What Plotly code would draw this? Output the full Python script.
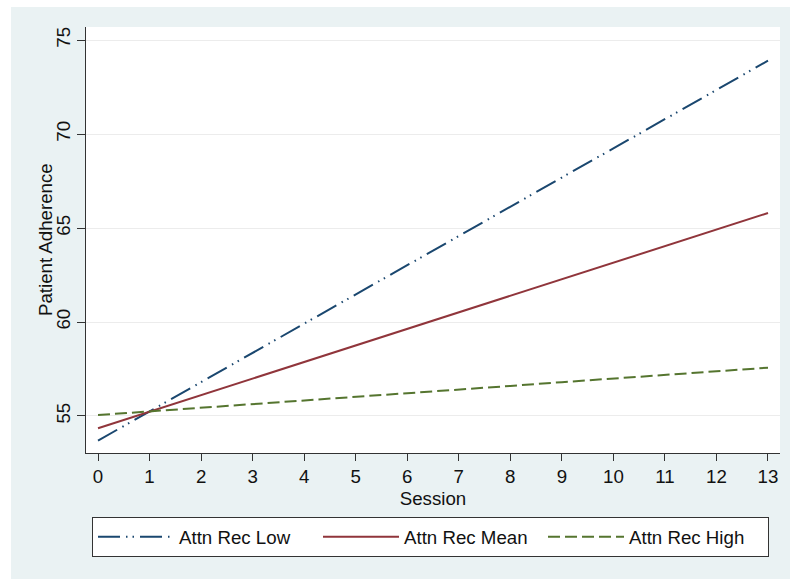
import plotly.graph_objects as go

sessions = list(range(14))
tick_vals_y = [55, 60, 65, 70, 75]
low_vals = [53.69, 55.25, 56.80, 58.36, 59.91, 61.47, 63.02, 64.58, 66.13, 67.69, 69.24, 70.80, 72.35, 73.91]
mean_vals = [54.35, 55.23, 56.11, 56.99, 57.87, 58.76, 59.64, 60.52, 61.40, 62.28, 63.16, 64.04, 64.92, 65.80]
high_vals = [55.05, 55.24, 55.44, 55.63, 55.83, 56.02, 56.21, 56.41, 56.60, 56.80, 56.99, 57.18, 57.38, 57.57]
names = ["Attn Rec Low", "Attn Rec Mean", "Attn Rec High"]

FONT = "Liberation Sans, Arial, Helvetica, sans-serif"
FS = 18.7
W, H = 790, 579
ML, MR, MT, MB = 86, 10, 27, 126
PW = W - ML - MR
PH = H - MT - MB

def px_x(p):
    return (p - ML) / PW

def px_y(p):
    return (H - MB - p) / PH

fig = go.Figure()
fig.add_trace(go.Scatter(x=sessions, y=low_vals, mode="lines", name=names[0],
                         line=dict(color="#1a476f", width=2, dash="22px,6px,1.5px,5px,1.5px,6px")))
fig.add_trace(go.Scatter(x=sessions, y=mean_vals, mode="lines", name=names[1],
                         line=dict(color="#90353b", width=2)))
fig.add_trace(go.Scatter(x=sessions, y=high_vals, mode="lines", name=names[2],
                         line=dict(color="#55752f", width=2, dash="12px,5px")))

bg = "#eaf2f3"
fig.update_layout(
    width=W, height=H,
    margin=dict(l=ML, r=MR, t=MT, b=MB, pad=0),
    paper_bgcolor=bg,
    plot_bgcolor="white",
    font=dict(family=FONT, size=FS, color="#111111"),
    showlegend=True,
    legend=dict(
        orientation="h",
        x=px_x(92), y=px_y(517), xanchor="left", yanchor="top",
        bgcolor="white", bordercolor="#333333", borderwidth=1,
        font=dict(family=FONT, size=FS, color="#111111"),
        itemwidth=76,
        entrywidth=134, entrywidthmode="pixels",
        traceorder="normal",
    ),
    xaxis=dict(
        range=[-0.233, 13.233],
        tickmode="array", tickvals=sessions, ticktext=[str(s) for s in sessions],
        showgrid=False, zeroline=False,
        showline=True, linecolor="#333333", linewidth=1,
        ticks="outside", ticklen=7, tickcolor="#333333", tickwidth=1,
        ticklabelstandoff=0,
        title=dict(text="Session", standoff=5, font=dict(size=FS)),
        tickfont=dict(size=FS),
    ),
    yaxis=dict(
        range=[53.03, 75.7],
        tickmode="array", tickvals=tick_vals_y, ticktext=[str(v) for v in tick_vals_y],
        tickangle=-90,
        showgrid=True, gridcolor="#ececec", gridwidth=1,
        zeroline=False,
        showline=True, linecolor="#333333", linewidth=1,
        ticks="outside", ticklen=8, tickcolor="#333333", tickwidth=1,
        tickfont=dict(size=FS),
    ),
    annotations=[
        dict(text="Patient Adherence", xref="paper", yref="paper",
             x=px_x(45), y=0.5, xanchor="center", yanchor="middle",
             textangle=-90, showarrow=False, font=dict(size=FS, family=FONT, color="#111111")),
    ],
    shapes=[
        dict(type="rect", xref="paper", yref="paper", layer="above",
             x0=px_x(-5), x1=px_x(W + 5), y0=px_y(7), y1=px_y(-5),
             fillcolor="white", line=dict(width=0)),
        dict(type="rect", xref="paper", yref="paper", layer="above",
             x0=px_x(-5), x1=px_x(11), y0=px_y(H + 5), y1=px_y(-5),
             fillcolor="white", line=dict(width=0)),
    ],
)

fig.write_html("out.html", config={"displayModeBar": False},
               post_script="document.body.style.margin='0';document.body.style.padding='0';")
